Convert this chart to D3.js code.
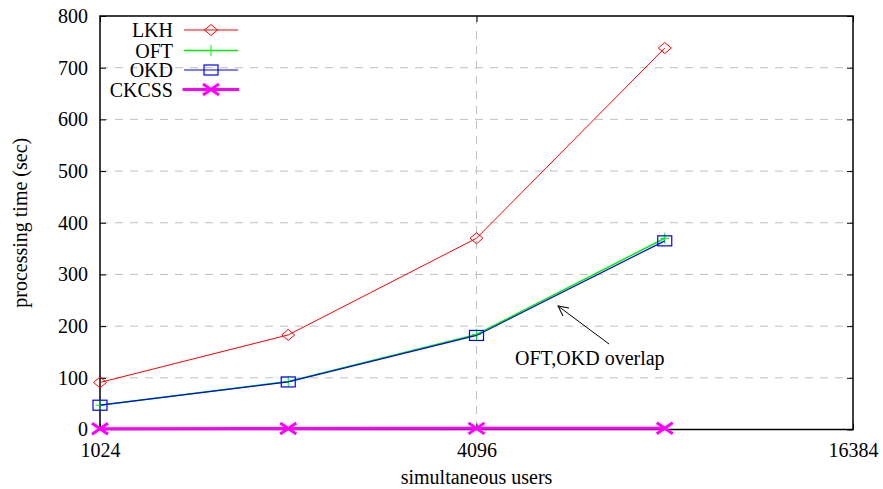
<html>
<head>
<script src="https://d3js.org/d3.v7.min.js"></script>
<style>
  body { margin: 0; background: #fff; }
  text { font-family: "Liberation Serif", "Times New Roman", serif; fill: #000; }
</style>
</head>
<body>
<svg id="chart" width="883" height="489"></svg>
<script>
// data
const users = [1024, 2048, 4096, 8192];
const lkh = [91, 183, 370, 738];
const oft = [47, 93, 184, 370];
const okd = [47, 92, 182, 365];
const ckcss = [1.5, 1.8, 2.2, 2.6];
const xTicks = [1024, 4096, 16384];
const yTicks = [0, 100, 200, 300, 400, 500, 600, 700, 800];

const svg = d3.select('#chart');
const plotLeft = 100, plotRight = 853, plotTop = 16, plotBottom = 429.5;
const fontSize = 20;

const x = d3.scaleLog().base(2).domain([1024, 16384]).range([plotLeft, plotRight]);
const y = d3.scaleLinear().domain([0, 800]).range([plotBottom, plotTop]);

// grid lines
const grid = svg.append('g')
    .attr('stroke', '#c0c0c0')
    .attr('stroke-width', 1)
    .attr('stroke-dasharray', '8,7');
grid.selectAll('line.h')
    .data(yTicks.filter(d => d > 0 && d < 800))
    .enter().append('line')
    .attr('x1', plotLeft).attr('x2', plotRight)
    .attr('y1', d => y(d)).attr('y2', d => y(d));
grid.selectAll('line.v')
    .data([4096])
    .enter().append('line')
    .attr('x1', d => x(d)).attr('x2', d => x(d))
    .attr('y1', plotTop).attr('y2', plotBottom);

// axes with inward ticks
const tickLen = 6;
const yLeft = svg.append('g')
    .attr('transform', `translate(${plotLeft},0)`)
    .call(d3.axisLeft(y).tickValues(yTicks).tickSizeInner(-tickLen).tickSizeOuter(0).tickPadding(12));
const yRight = svg.append('g')
    .attr('transform', `translate(${plotRight},0)`)
    .call(d3.axisRight(y).tickValues(yTicks).tickSizeInner(-tickLen).tickSizeOuter(0).tickFormat(''));
const xBottom = svg.append('g')
    .attr('transform', `translate(0,${plotBottom})`)
    .call(d3.axisBottom(x).tickValues(xTicks).tickSizeInner(-tickLen).tickSizeOuter(0).tickPadding(13).tickFormat(d3.format('d')));
const xTop = svg.append('g')
    .attr('transform', `translate(0,${plotTop})`)
    .call(d3.axisTop(x).tickValues(xTicks).tickSizeInner(-tickLen).tickSizeOuter(0).tickFormat(''));

[yLeft, yRight, xBottom, xTop].forEach(g => {
    g.select('.domain').remove();
    g.selectAll('.tick line').attr('stroke', '#000');
    g.selectAll('text')
        .style('font-family', '"Liberation Serif", serif')
        .style('font-size', fontSize + 'px')
        .attr('fill', '#000');
});

// frame
svg.append('rect')
    .attr('x', plotLeft).attr('y', plotTop)
    .attr('width', plotRight - plotLeft).attr('height', plotBottom - plotTop)
    .attr('fill', 'none')
    .attr('stroke', '#000')
    .attr('stroke-width', 1.5);

// axis titles
svg.append('text')
    .attr('transform', `translate(27,${(plotTop + plotBottom) / 2}) rotate(-90)`)
    .attr('text-anchor', 'middle')
    .style('font-size', fontSize + 'px')
    .text('processing time (sec)');
svg.append('text')
    .attr('x', (plotLeft + plotRight) / 2)
    .attr('y', 484)
    .attr('text-anchor', 'middle')
    .style('font-size', fontSize + 'px')
    .text('simultaneous users');

// markers
function drawMarker(g, type, cx, cy, color) {
    if (type === 'diamond') {
        g.append('path')
            .attr('d', `M${cx - 6.5},${cy} L${cx},${cy - 5.5} L${cx + 6.5},${cy} L${cx},${cy + 5.5} Z`)
            .attr('fill', 'none').attr('stroke', color).attr('stroke-width', 1);
    } else if (type === 'plus') {
        g.append('path')
            .attr('d', `M${cx - 4.5},${cy} H${cx + 4.5} M${cx},${cy - 5.5} V${cy + 5.5}`)
            .attr('fill', 'none').attr('stroke', color).attr('stroke-width', 1);
    } else if (type === 'square') {
        g.append('rect')
            .attr('x', cx - 7).attr('y', cy - 5)
            .attr('width', 14).attr('height', 10)
            .attr('fill', 'none').attr('stroke', color).attr('stroke-width', 1.2);
    } else if (type === 'cross') {
        g.append('path')
            .attr('d', `M${cx - 8},${cy - 5.5} L${cx + 8},${cy + 5.5} M${cx - 8},${cy + 5.5} L${cx + 8},${cy - 5.5}`)
            .attr('fill', 'none').attr('stroke', color).attr('stroke-width', 3);
    }
}

const series = [
    { name: 'LKH', values: lkh, color: '#ff0000', width: 1, marker: 'diamond' },
    { name: 'OFT', values: oft, color: '#00ee00', width: 1.5, marker: 'plus' },
    { name: 'OKD', values: okd, color: '#0000ff', width: 1.2, marker: 'square' },
    { name: 'CKCSS', values: ckcss, color: '#ff00ff', width: 3, marker: 'cross' }
];

const line = d3.line()
    .x(d => x(d[0]))
    .y(d => y(d[1]));

series.forEach(s => {
    const pts = users.map((u, i) => [u, s.values[i]]);
    const g = svg.append('g');
    g.append('path')
        .datum(pts)
        .attr('d', line)
        .attr('fill', 'none')
        .attr('stroke', s.color)
        .attr('stroke-width', s.width);
    pts.forEach(p => drawMarker(g, s.marker, x(p[0]), y(p[1]), s.color));
});

// legend
const legendY = [30, 50.5, 70, 89.5];
series.forEach((s, i) => {
    const g = svg.append('g');
    g.append('text')
        .attr('x', 173)
        .attr('y', legendY[i])
        .attr('dy', '0.35em')
        .attr('text-anchor', 'end')
        .style('font-size', fontSize + 'px')
        .text(s.name);
    g.append('line')
        .attr('x1', s.marker === 'cross' ? 182.5 : 184)
        .attr('x2', s.marker === 'cross' ? 239 : 238)
        .attr('y1', legendY[i]).attr('y2', legendY[i])
        .attr('stroke', s.color)
        .attr('stroke-width', s.width);
    drawMarker(g, s.marker, 211, legendY[i], s.color);
});

// annotation
svg.append('defs').append('marker')
    .attr('id', 'arrowhead')
    .attr('viewBox', '0 0 12 12')
    .attr('refX', 11).attr('refY', 6)
    .attr('markerWidth', 12).attr('markerHeight', 12)
    .attr('markerUnits', 'userSpaceOnUse')
    .attr('orient', 'auto')
    .append('path')
    .attr('d', 'M1,1 L11,6 L1,11')
    .attr('fill', 'none')
    .attr('stroke', '#000')
    .attr('stroke-width', 1);
svg.append('line')
    .attr('x1', 609).attr('y1', 344)
    .attr('x2', 558).attr('y2', 306)
    .attr('stroke', '#000')
    .attr('stroke-width', 1)
    .attr('marker-end', 'url(#arrowhead)');
svg.append('text')
    .attr('x', 515)
    .attr('y', 365)
    .style('font-size', fontSize + 'px')
    .text('OFT,OKD overlap');
</script>
</body>
</html>
